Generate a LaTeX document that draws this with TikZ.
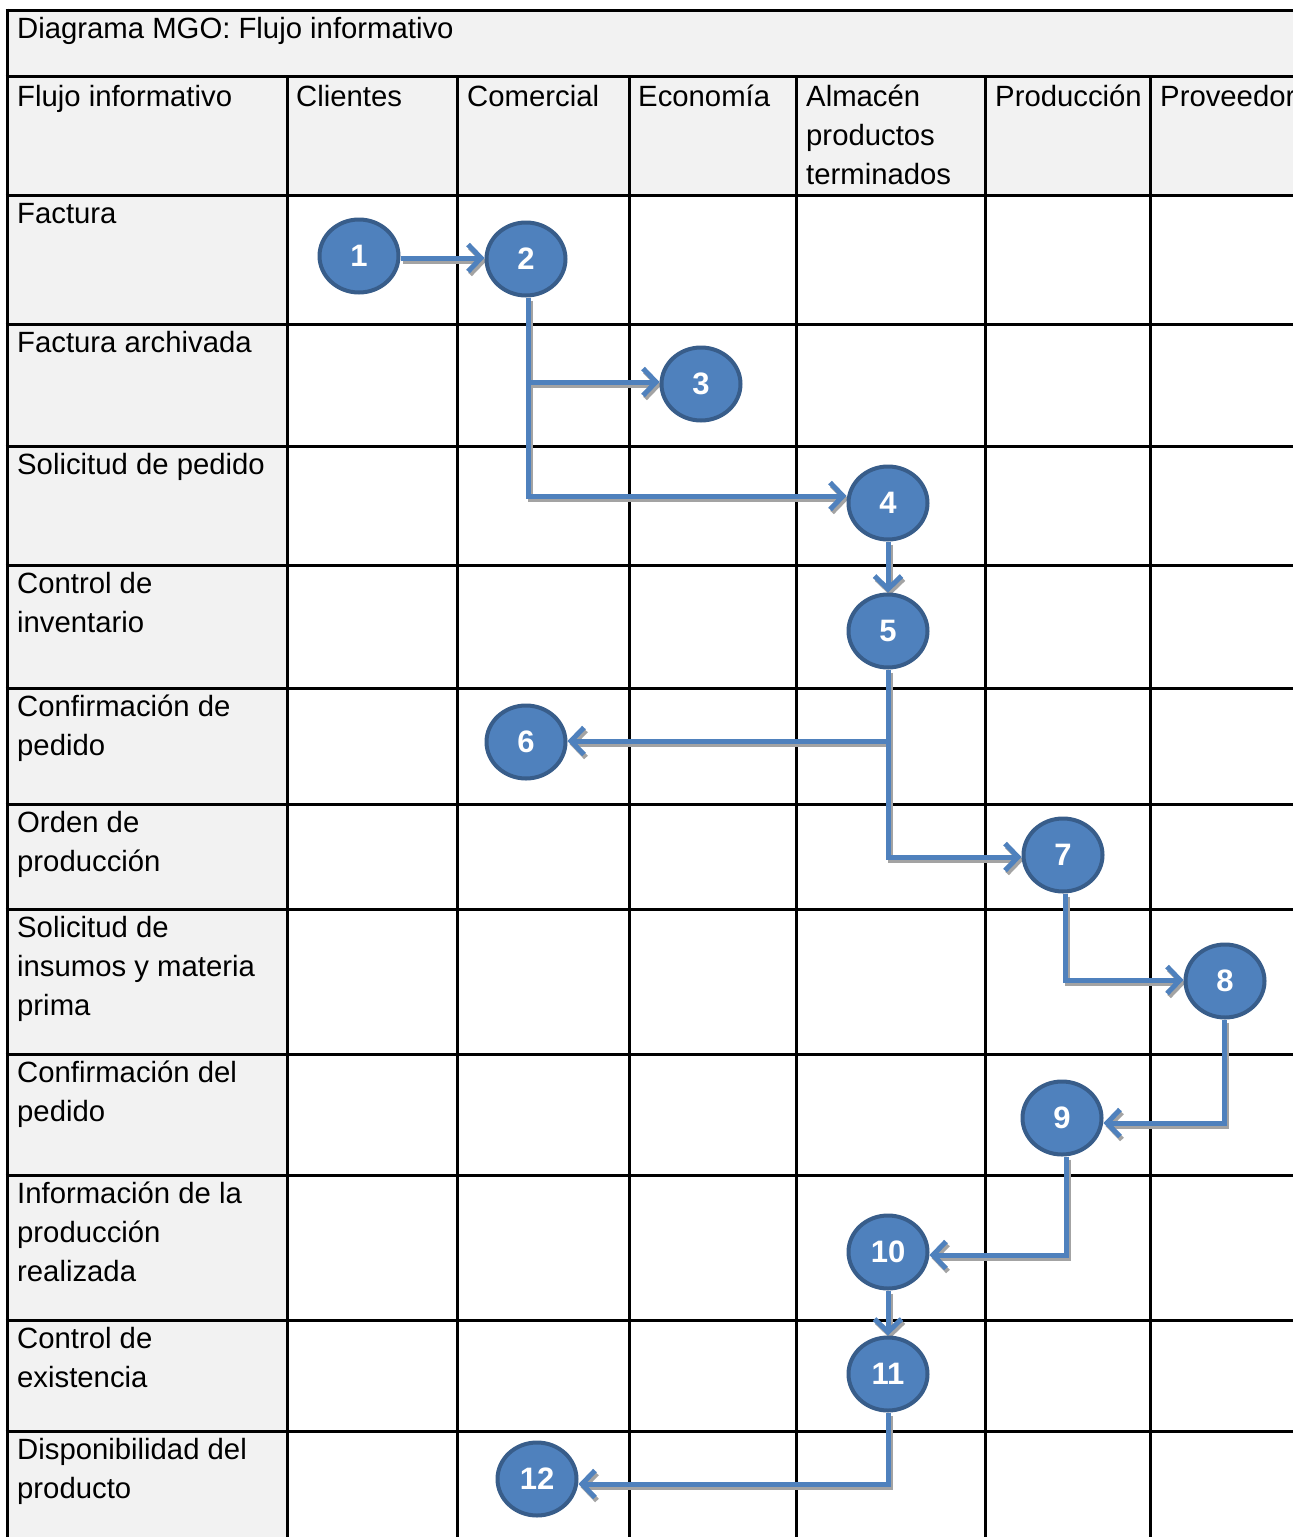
\documentclass[tikz,border=0pt]{standalone}
\usepackage{fontspec}
\setmainfont{Liberation Sans}
\usetikzlibrary{arrows.meta,shapes.geometric}
\definecolor{cellgrey}{HTML}{F2F2F2}
\definecolor{stepblue}{HTML}{4F81BD}
\definecolor{stepedge}{HTML}{385D8A}
\definecolor{shadowgrey}{HTML}{A3A3A3}
\pgfdeclarelayer{tablelayer}
\pgfdeclarelayer{linklayer}
\pgfsetlayers{tablelayer,linklayer,main}
\begin{document}
\begin{tikzpicture}[x=1pt,y=-1pt,
  gridline/.style={line width=3pt, black},
  celltxt/.style={anchor=north west, inner sep=0pt, align=left,
    font=\fontsize{29.3}{39}\selectfont},
  stepnode/.style={ellipse, draw=stepedge, line width=4pt, fill=stepblue,
    minimum width=79pt, minimum height=73pt, inner sep=0pt, text=white,
    font=\fontsize{31}{36}\selectfont\bfseries},
  flowline/.style={draw=stepblue, line width=5pt,
    -{Straight Barb[length=13pt,width=27pt]}},
  flowtrunk/.style={draw=stepblue, line width=5pt},
  flowshade/.style={draw=shadowgrey, line width=5pt,
    -{Straight Barb[length=13pt,width=27pt]},
    transform canvas={xshift=2pt,yshift=-3pt}},
  trunkshade/.style={draw=shadowgrey, line width=5pt,
    transform canvas={xshift=2pt,yshift=-3pt}},
]
\useasboundingbox (0,0) rectangle (1293,1537);
\clip (0,0) rectangle (1293,1537);

\begin{pgfonlayer}{tablelayer}
% shaded header rows and first column
\fill[white] (0,0) rectangle (1293,1537);
\fill[cellgrey] (7,10) rectangle (1300,195);
\fill[cellgrey] (7,195) rectangle (287,1540);
% table rules
\foreach \y in {10,76,195,324,446,565,688,804,909,1054,1175,1320,1431}
  \draw[gridline] (5.5,\y) -- (1300,\y);
\draw[gridline] (7,8.5) -- (7,1540);
\foreach \x in {287,457,629,796,985,1150}
  \draw[gridline] (\x,76) -- (\x,1540);
\end{pgfonlayer}

% texts (the strut fixes the first baseline just below the rule)
\newcommand\cellstrut{\rule{0pt}{31pt}}
\node[celltxt] (title) at (17,7) {\cellstrut Diagrama MGO: Flujo informativo};
\node[celltxt] (hflujo) at (17,75) {\cellstrut Flujo informativo};
\node[celltxt] (hcli) at (296,75) {\cellstrut Clientes};
\node[celltxt] (hcom) at (467,75) {\cellstrut Comercial};
\node[celltxt] (heco) at (638,75) {\cellstrut Economía};
\node[celltxt] (halm) at (806,75) {\cellstrut Almacén\\productos\\terminados};
\node[celltxt] (hpro) at (995,75) {\cellstrut Producción};
\node[celltxt] (hprv) at (1160,75) {\cellstrut Proveedor};

\node[celltxt] (r1) at (17,192) {\cellstrut Factura};
\node[celltxt] (r2) at (17,321) {\cellstrut Factura archivada};
\node[celltxt] (r3) at (17,443) {\cellstrut Solicitud de pedido};
\node[celltxt] (r4) at (17,562) {\cellstrut Control de\\inventario};
\node[celltxt] (r5) at (17,685) {\cellstrut Confirmación de\\pedido};
\node[celltxt] (r6) at (17,801) {\cellstrut Orden de\\producción};
\node[celltxt] (r7) at (17,906) {\cellstrut Solicitud de\\insumos y materia\\prima};
\node[celltxt] (r8) at (17,1051) {\cellstrut Confirmación del\\pedido};
\node[celltxt] (r9) at (17,1172) {\cellstrut Información de la\\producción\\realizada};
\node[celltxt] (r10) at (17,1317) {\cellstrut Control de\\existencia};
\node[celltxt] (r11) at (17,1428) {\cellstrut Disponibilidad del\\producto};

% process steps
\node[stepnode] (n1) at (359,256) {1};
\node[stepnode] (n2) at (526,259) {2};
\node[stepnode] (n3) at (701,384) {3};
\node[stepnode] (n4) at (888,503) {4};
\node[stepnode] (n5) at (888,631) {5};
\node[stepnode] (n6) at (526,742) {6};
\node[stepnode] (n7) at (1063,855) {7};
\node[stepnode] (n8) at (1225,981) {8};
\node[stepnode] (n9) at (1062,1118) {9};
\node[stepnode] (n10) at (888,1252) {10};
\node[stepnode] (n11) at (888,1374) {11};
\node[stepnode] (n12) at (537,1479) {12};

% elbows of the connectors
\coordinate (e1) at (398,258);
\coordinate (e2a) at (528,382);
\coordinate (e2b) at (528,496);
\coordinate (e5a) at (888,741);
\coordinate (e5b) at (888,857);
\coordinate (e7) at (1065,980);
\coordinate (e8) at (1224,1123);
\coordinate (e9) at (1066,1255);
\coordinate (e11) at (888,1484);

\begin{pgfonlayer}{linklayer}
% connector shadows
\draw[flowshade] (n1.east |- e1) -- (e1 -| n2.west);
\draw[trunkshade] (n2.south -| e2a) -- (e2a);
\draw[flowshade] (e2a) -- (e2a -| n3.west);
\draw[flowshade] (e2a) -- (e2b) -- (e2b -| n4.west);
\draw[flowshade] (n4) -- (n5);
\draw[flowshade] (n5.south) -- (e5a) -- (e5a -| n6.east);
\draw[flowshade] (e5a) -- (e5b) -- (e5b -| n7.west);
\draw[flowshade] (n7.south -| e7) -- (e7) -- (e7 -| n8.west);
\draw[flowshade] (n8.south -| e8) -- (e8) -- (e8 -| n9.east);
\draw[flowshade] (n9.south -| e9) -- (e9) -- (e9 -| n10.east);
\draw[flowshade] (n10) -- (n11);
\draw[flowshade] (n11.south) -- (e11) -- (e11 -| n12.east);
% connectors
\draw[flowline] (n1.east |- e1) -- (e1 -| n2.west);
\draw[flowtrunk] (n2.south -| e2a) -- (e2a);
\draw[flowline] (e2a) -- (e2a -| n3.west);
\draw[flowline] (e2a) -- (e2b) -- (e2b -| n4.west);
\draw[flowline] (n4) -- (n5);
\draw[flowline] (n5.south) -- (e5a) -- (e5a -| n6.east);
\draw[flowline] (e5a) -- (e5b) -- (e5b -| n7.west);
\draw[flowline] (n7.south -| e7) -- (e7) -- (e7 -| n8.west);
\draw[flowline] (n8.south -| e8) -- (e8) -- (e8 -| n9.east);
\draw[flowline] (n9.south -| e9) -- (e9) -- (e9 -| n10.east);
\draw[flowline] (n10) -- (n11);
\draw[flowline] (n11.south) -- (e11) -- (e11 -| n12.east);
\end{pgfonlayer}
\end{tikzpicture}
\end{document}
